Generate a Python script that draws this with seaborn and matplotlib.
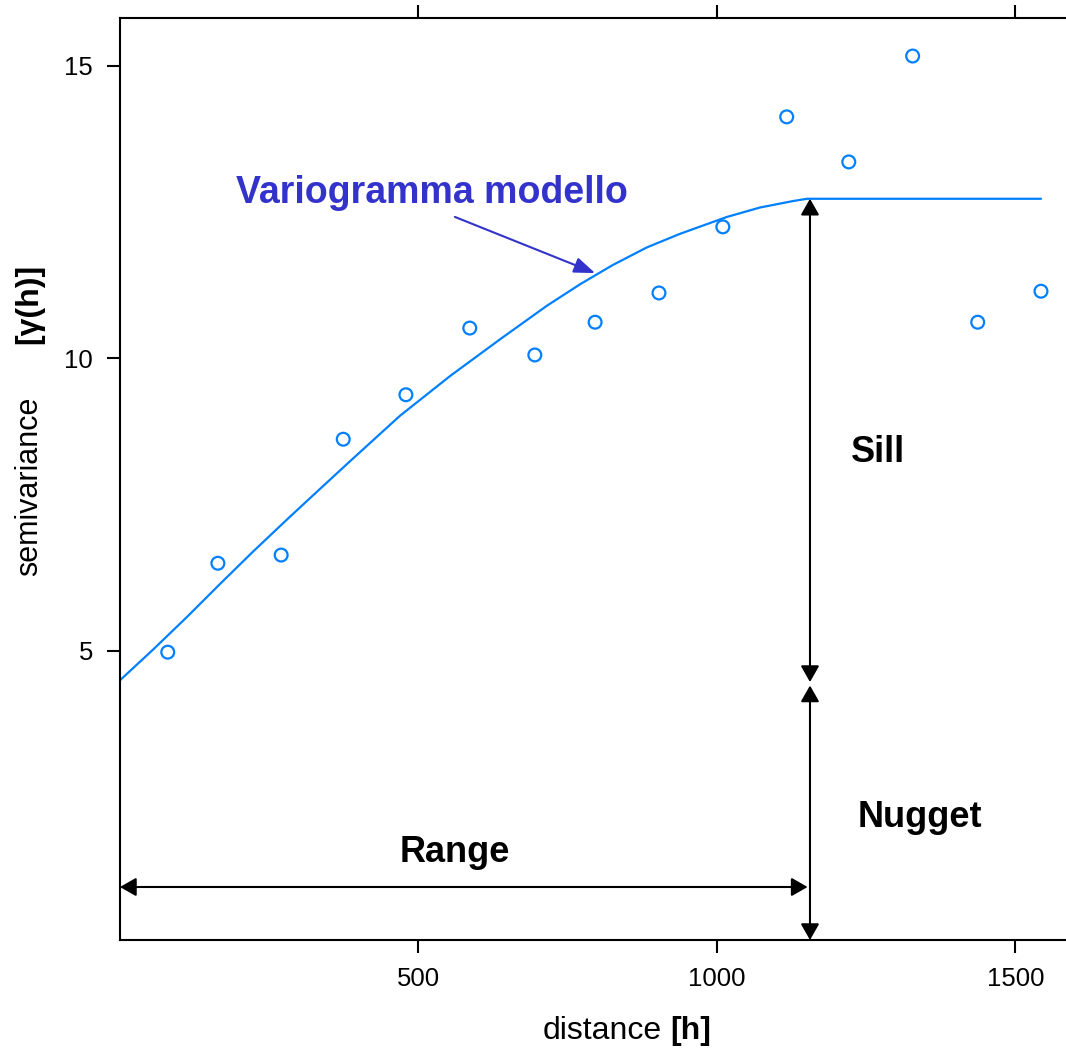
import matplotlib
matplotlib.use("Agg")
import matplotlib.pyplot as plt
import seaborn as sns
import pandas as pd

# empirical variogram points
dist = [80, 164, 270, 374, 479, 586, 695, 796, 903, 1010, 1117, 1221, 1328, 1437, 1543]
gamma = [4.98, 6.50, 6.64, 8.62, 9.38, 10.52, 10.06, 10.62, 11.12, 12.25, 14.13, 13.36, 15.17, 10.62, 11.15]

# fitted model curve
model_dist = [0, 55, 112, 168, 223, 280, 335, 385, 469, 553, 637, 715, 771, 826, 883, 938, 1017, 1072, 1127, 1151, 1543]
model_gamma = [4.50, 5.02, 5.58, 6.15, 6.70, 7.25, 7.77, 8.24, 9.02, 9.70, 10.33, 10.90, 11.27, 11.60, 11.90, 12.13, 12.42, 12.58, 12.69, 12.73, 12.73]

nugget = 4.44
sill = 12.73
model_range = 1156

xticks = [500, 1000, 1500]
yticks = [5, 10, 15]

sns.set_theme(style="white")
plt.rcParams['font.family'] = ['Liberation Sans', 'DejaVu Sans']
plt.rcParams['text.color'] = 'black'

BLUE = '#0080ff'
DARKBLUE = '#3333cc'

fig = plt.figure(figsize=(10.66, 10.52), dpi=100)
ax = fig.add_axes([120 / 1066, 112 / 1052, 955 / 1066, 922 / 1052])

pts = pd.DataFrame({'dist': dist, 'gamma': gamma})
mdl = pd.DataFrame({'dist': model_dist, 'gamma': model_gamma})

sns.lineplot(data=mdl, x='dist', y='gamma', sort=False, estimator=None,
             color=BLUE, lw=1.6, ax=ax)
sns.scatterplot(data=pts, x='dist', y='gamma', marker='o', s=85,
                color='none', edgecolor=BLUE, linewidth=1.6, ax=ax, zorder=3)

ax.set_xlim(0, 1600)
ax.set_ylim(0.06, 15.82)
ax.set_xticks(xticks)
ax.set_yticks(yticks)
ax.set_xlabel('')
ax.set_ylabel('')

for s in ['top', 'left', 'bottom', 'right']:
    ax.spines[s].set_color('black')
    ax.spines[s].set_linewidth(1.5)

ax.tick_params(axis='x', which='both', bottom=True, top=True, labeltop=False,
               direction='out', length=9.5, width=1.5, color='black',
               labelsize=18.5, pad=10, labelcolor='black')
ax.tick_params(axis='y', which='both', left=True, right=False,
               direction='out', length=9.5, width=1.5, color='black',
               labelsize=18.5, pad=10, labelcolor='black')

# axis labels
fig.text(662 / 1066, 1 - 1031 / 1052, 'distance', ha='right', va='center', fontsize=23, color='black')
fig.text(670 / 1066, 1 - 1031 / 1052, '[h]', ha='left', va='center', fontsize=23, fontweight='bold', color='black')
fig.text(29 / 1066, 1 - 486 / 1052, 'semivariance', ha='center', va='center', rotation=90, fontsize=22, color='black')
fig.text(29 / 1066, 1 - 304 / 1052, '[γ(h)]', ha='center', va='center', rotation=90, fontsize=23, fontweight='bold', color='black')

# annotations
ax.text(522, 12.83, 'Variogramma modello', color=DARKBLUE, fontsize=27,
        fontweight='bold', ha='center', va='center')
ax.annotate('', xy=(796, 11.46), xytext=(561, 12.42),
            arrowprops=dict(arrowstyle='-|>,head_length=0.8,head_width=0.3',
                            color=DARKBLUE, lw=1.5, shrinkA=0, shrinkB=0,
                            mutation_scale=16))

dbl = dict(arrowstyle='<|-|>,head_length=0.7,head_width=0.4', color='black',
           lw=1.5, shrinkA=0, shrinkB=0, mutation_scale=14)
ax.annotate('', xy=(model_range, sill), xytext=(model_range, nugget + 0.03),
            arrowprops=dbl, annotation_clip=False)
ax.annotate('', xy=(model_range, nugget - 0.03), xytext=(model_range, 0.06),
            arrowprops=dbl, annotation_clip=False)
ax.annotate('', xy=(0, 0.966), xytext=(model_range - 4, 0.966),
            arrowprops=dbl, annotation_clip=False)

ax.text(1270, 8.40, 'Sill', fontsize=26, fontweight='bold', ha='center', va='center', color='black')
ax.text(1340, 2.16, 'Nugget', fontsize=26, fontweight='bold', ha='center', va='center', color='black')
ax.text(561, 1.56, 'Range', fontsize=26, fontweight='bold', ha='center', va='center', color='black')

fig.savefig('out.png', dpi=100, facecolor='white')
